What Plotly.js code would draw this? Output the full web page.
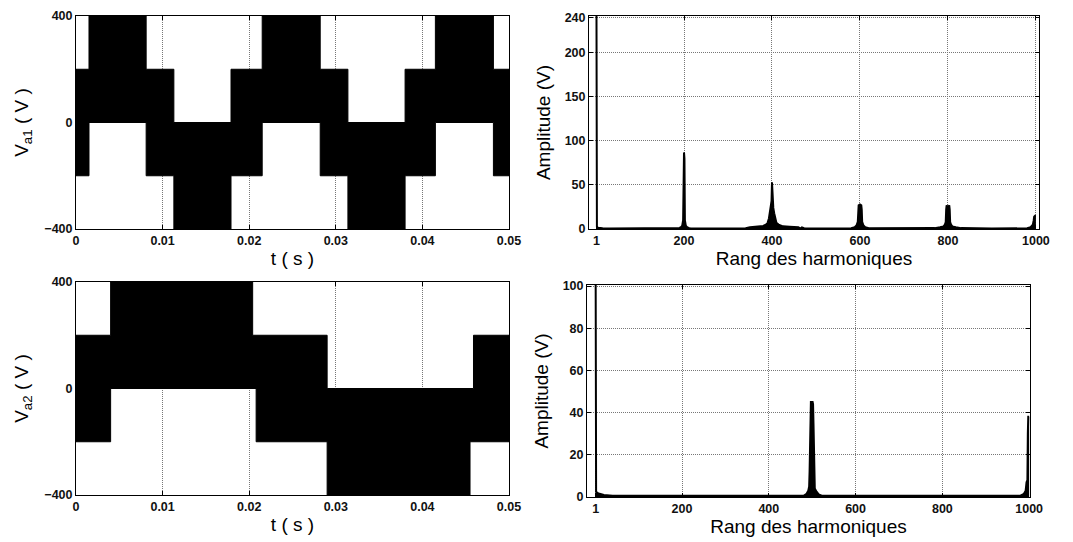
<!DOCTYPE html>
<html>
<head>
<meta charset="utf-8">
<script src="https://cdn.plot.ly/plotly-3.0.1.min.js"></script>
<style>html,body{margin:0;padding:0;background:#fff;}#chart{width:1073px;height:542px;}</style>
</head>
<body>
<div id="chart"></div>
<script>
// ---- Va1 (top-left): band edges (s), upper and lower levels (V) ----
const va1Edges = [0, 0.0015, 0.0081, 0.0113, 0.0179, 0.0215, 0.0282, 0.0314, 0.0380, 0.0415, 0.0482, 0.05];
const va1Upper = [200, 400, 200, 0, 200, 400, 200, 0, 200, 400, 200];
const va1Lower = [-200, 0, -200, -400, -200, 0, -200, -400, -200, 0, -200];

// ---- Va2 (bottom-left) ----
const va2UpperEdges = [0, 0.0040, 0.0204, 0.0290, 0.0459, 0.05];
const va2Upper = [200, 400, 200, 0, 200];
const va2LowerEdges = [0, 0.0040, 0.0208, 0.0290, 0.0455, 0.05];
const va2Lower = [-200, 0, -200, -400, -200];

// ---- Spectrum of Va1 (top-right) ----
const harm1 = [1, 2, 4, 8, 15, 30, 180, 190, 194, 196, 198, 199, 200, 201, 202, 204, 206, 210, 215,
  300, 340, 350, 365, 380, 386, 390, 393, 395, 397, 399, 400, 401, 403, 405, 407, 410, 415, 425, 440, 460, 465, 468, 470, 475,
  500, 560, 580, 588, 592, 595, 596, 597, 600, 603, 604, 605, 608, 612, 620,
  700, 770, 782, 790, 793, 795, 796, 797, 799, 800, 801, 803, 804, 805, 807, 810, 818, 830,
  900, 980, 988, 993, 995, 996, 998, 1000];
const amp1 = [245, 3, 1.5, 1, 0.8, 0.5, 0.5, 1.2, 2.5, 4, 10, 80, 87, 80, 10, 4, 2.5, 1.2, 0.5,
  0.5, 0.8, 2, 2.5, 3.5, 5, 7, 12, 18, 24, 32, 53, 32, 24, 18, 12, 7, 5, 3, 2.5, 2, 0.5, 1.8, 1.5, 0.5,
  0.5, 0.5, 0.8, 2, 4, 8, 22, 27, 28, 27, 22, 8, 4, 2, 0.8,
  0.5, 1, 2, 3, 5, 8, 22, 27, 25, 20, 25, 27, 22, 8, 5, 3, 2, 1,
  0.5, 0.8, 2, 5, 10, 14, 15, 15];

// ---- Spectrum of Va2 (bottom-right) ----
const harm2 = [1, 2, 5, 10, 20, 40, 480, 487, 491, 493, 494, 495, 496, 497, 501, 502, 503, 504, 506, 510, 515, 522,
  980, 988, 992, 994, 996, 997, 998, 1000];
const amp2 = [101, 2.5, 2, 1.5, 1, 0.6, 0.6, 1.5, 3, 5, 12, 25, 44, 45, 45, 44, 35, 12, 4, 2.5, 1.2, 0.6,
  0.6, 1.5, 3, 7, 8, 30, 38, 38];

const timeTicks = [0, 0.01, 0.02, 0.03, 0.04, 0.05];
const timeTickText = ['0', '0.01', '0.02', '0.03', '0.04', '0.05'];
const voltTicks = [-400, 0, 400];
const harmTicks = [1, 200, 400, 600, 800, 1000];
const amp1Ticks = [0, 50, 100, 150, 200, 240];
const amp2Ticks = [0, 20, 40, 60, 80, 100];

function bandPolygon(upEdges, up, loEdges, lo) {
  const xs = [], ys = [];
  for (let i = 0; i < up.length; i++) { xs.push(upEdges[i], upEdges[i + 1]); ys.push(up[i], up[i]); }
  for (let i = lo.length - 1; i >= 0; i--) { xs.push(loEdges[i + 1], loEdges[i]); ys.push(lo[i], lo[i]); }
  xs.push(xs[0]); ys.push(ys[0]);
  return {x: xs, y: ys};
}

const p1 = bandPolygon(va1Edges, va1Upper, va1Edges, va1Lower);
const p2 = bandPolygon(va2UpperEdges, va2Upper, va2LowerEdges, va2Lower);

const traces = [
  {x: p1.x, y: p1.y, xaxis: 'x', yaxis: 'y', type: 'scatter', mode: 'lines', fill: 'toself',
   fillcolor: '#000', line: {color: '#000', width: 1}, hoverinfo: 'skip'},
  {x: harm1, y: amp1, xaxis: 'x2', yaxis: 'y2', type: 'scatter', mode: 'lines', fill: 'tozeroy',
   fillcolor: '#000', line: {color: '#000', width: 2}, hoverinfo: 'skip'},
  {x: p2.x, y: p2.y, xaxis: 'x3', yaxis: 'y3', type: 'scatter', mode: 'lines', fill: 'toself',
   fillcolor: '#000', line: {color: '#000', width: 1}, hoverinfo: 'skip'},
  {x: harm2, y: amp2, xaxis: 'x4', yaxis: 'y4', type: 'scatter', mode: 'lines', fill: 'tozeroy',
   fillcolor: '#000', line: {color: '#000', width: 2}, hoverinfo: 'skip'}
];

const W = 1073, H = 542;
function dx(a, b) { return [a / W, b / W]; }
function dy(top, bottom) { return [(H - bottom) / H, (H - top) / H]; }

const tickFont = {family: 'Arial, Liberation Sans, sans-serif', size: 12.5, color: '#111', weight: 'bold'};
const titleFont = {family: 'Arial, Liberation Sans, sans-serif', size: 19, color: '#000'};

function axis(extra) {
  return Object.assign({
    showline: true, mirror: 'ticks', linecolor: '#000', linewidth: 1,
    ticks: 'inside', ticklen: 4, tickcolor: '#000',
    showgrid: true, gridcolor: '#777', griddash: '1px,1px', gridwidth: 1,
    zeroline: false, tickfont: tickFont, fixedrange: true
  }, extra);
}

const layout = {
  width: W, height: H,
  margin: {l: 0, r: 0, t: 0, b: 0},
  paper_bgcolor: '#fff', plot_bgcolor: '#fff',
  showlegend: false,
  xaxis: axis({domain: dx(76, 509), range: [0, 0.05], tickvals: timeTicks, ticktext: timeTickText, anchor: 'y',
    title: {text: 't ( s )', font: titleFont, standoff: 4}}),
  yaxis: axis({domain: dy(16, 229), range: [-400, 400], tickvals: voltTicks, anchor: 'x',
    title: {text: 'V<sub>a1</sub> ( V )', font: titleFont, standoff: 10}}),
  xaxis2: axis({domain: dx(589, 1039), range: [-16, 1007], tickvals: harmTicks, anchor: 'y2',
    title: {text: 'Rang des harmoniques', font: titleFont, standoff: 4}}),
  yaxis2: axis({domain: dy(16, 229), range: [0, 242], tickvals: amp1Ticks, anchor: 'x2',
    title: {text: 'Amplitude (V)', font: titleFont, standoff: 8}}),
  xaxis3: axis({domain: dx(76, 509), range: [0, 0.05], tickvals: timeTicks, ticktext: timeTickText, anchor: 'y3',
    title: {text: 't ( s )', font: titleFont, standoff: 4}}),
  yaxis3: axis({domain: dy(282, 495), range: [-400, 400], tickvals: voltTicks, anchor: 'x3',
    title: {text: 'V<sub>a2</sub> ( V )', font: titleFont, standoff: 10}}),
  xaxis4: axis({domain: dx(587, 1030), range: [-19, 1002], tickvals: harmTicks, anchor: 'y4',
    title: {text: 'Rang des harmoniques', font: titleFont, standoff: 4}}),
  yaxis4: axis({domain: dy(285, 497), range: [0, 100.5], tickvals: amp2Ticks, anchor: 'x4',
    title: {text: 'Amplitude (V)', font: titleFont, standoff: 8}})
};

Plotly.newPlot('chart', traces, layout, {displayModeBar: false, staticPlot: true});
</script>
</body>
</html>
